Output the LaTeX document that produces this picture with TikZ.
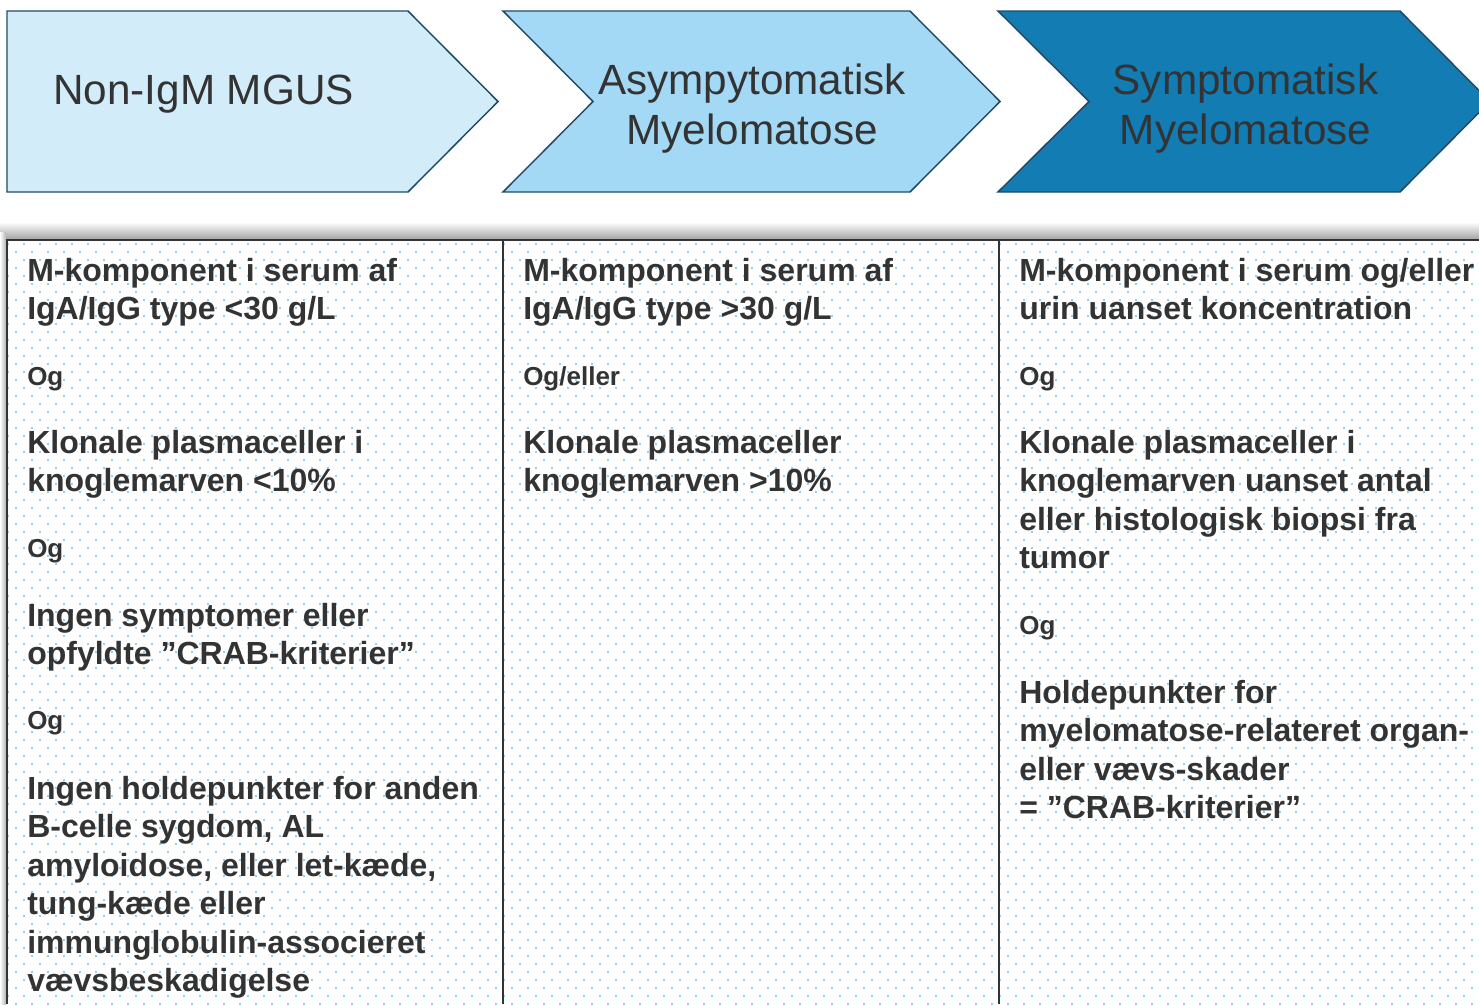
\documentclass[tikz,border=0pt]{standalone}
\usepackage{fontspec}
\setmainfont{Liberation Sans}
\usetikzlibrary{patterns.meta}
\definecolor{stageA}{HTML}{D2ECFA}
\definecolor{stageB}{HTML}{A3D9F5}
\definecolor{stageC}{HTML}{127CB3}
\definecolor{stageline}{HTML}{1F4B66}
\definecolor{txtgray}{HTML}{333333}
\definecolor{dotblue}{HTML}{8FD1F4}
\tikzset{
  stage/.style={draw=stageline, line width=1.1pt},
  head/.style={anchor=north, inner sep=0pt, align=center, text=txtgray, font=\fontsize{31.7}{37.5}\selectfont},
  crit/.style={anchor=north west, inner sep=0pt, align=left, text=txtgray, font=\fontsize{24}{28.8}\selectfont\bfseries},
  conj/.style={anchor=base west, inner sep=0pt, text=txtgray, font=\fontsize{19.5}{23}\selectfont\bfseries},
  rule/.style={line width=2.2pt, color=txtgray},
}
\begin{document}
\begin{tikzpicture}[x=0.75pt,y=0.75pt,yscale=-1,xscale=1]
\useasboundingbox (0,0) rectangle (1479,1004);
\clip (0,0) rectangle (1479,1004);

%Shape: Chevron 1
\draw [stage, fill=stageA] (7,11) -- (408,11) -- (498,101.5) -- (408,192) -- (7,192) -- cycle;
%Shape: Chevron 2
\draw [stage, fill=stageB] (503,11) -- (910,11) -- (1000,101.5) -- (910,192) -- (503,192) -- (593,101.5) -- cycle;
%Shape: Chevron 3
\draw [stage, fill=stageC] (998,11) -- (1400,11) -- (1490,101.5) -- (1400,192) -- (998,192) -- (1089,101.5) -- cycle;

% Text Node
\node [head, anchor=base] (mgus) at (203.5,104) {Non-IgM MGUS};
% Text Node
\node [head] (asym) at (752,59) {\strut Asympytomatisk\\Myelomatose};
% Text Node
\node [head] (sym) at (1245.5,59) {\strut Symptomatisk\\Myelomatose};

%Shape: Table shadow
\shade [top color=white, bottom color=gray!70] (0,222) rectangle (1479,239);
\shade [left color=white, right color=gray!60] (0,232) rectangle (6,1004);
%Shape: Table
\fill [white] (7,240) rectangle (1479,1004);
\fill [pattern={Dots[radius=0.85pt, distance=8.485pt, angle=45]}, pattern color=dotblue] (7,240) rectangle (1479,1004);
\draw [rule] (1479,240) -- (7,240) -- (7,1004);
\draw [rule] (503,240) -- (503,1004);
\draw [rule] (999,240) -- (999,1004);

% Text Node
\node [crit] (mk1) at (27,254.4) {\strut M-komponent i serum af\\IgA/IgG type <30 g/L};
\node [conj] (og1) at (27,385) {Og};
\node [crit] (kp1) at (27,426.4) {\strut Klonale plasmaceller i\\knoglemarven <10\%};
\node [conj] (og2) at (27,557) {Og};
\node [crit] (is1) at (27,599.4) {\strut Ingen symptomer eller\\opfyldte ”CRAB-kriterier”};
\node [conj] (og3) at (27,729) {Og};
\node [crit] (ih1) at (27,772.4) {\strut Ingen holdepunkter for anden\\B-celle sygdom, AL\\amyloidose, eller let-kæde,\\tung-kæde eller\\immunglobulin-associeret\\vævsbeskadigelse};

% Text Node
\node [crit] (mk2) at (523,254.4) {\strut M-komponent i serum af\\IgA/IgG type >30 g/L};
\node [conj] (og4) at (523,385) {Og/eller};
\node [crit] (kp2) at (523,426.4) {\strut Klonale plasmaceller\\knoglemarven >10\%};

% Text Node
\node [crit] (mk3) at (1019,254.4) {\strut M-komponent i serum og/eller\\urin uanset koncentration};
\node [conj] (og5) at (1019,385) {Og};
\node [crit] (kp3) at (1019,426.4) {\strut Klonale plasmaceller i\\knoglemarven uanset antal\\eller histologisk biopsi fra\\tumor};
\node [conj] (og6) at (1019,634) {Og};
\node [crit] (hp3) at (1019,676.4) {\strut Holdepunkter for\\myelomatose-relateret organ-\\eller vævs-skader\\= ”CRAB-kriterier”};

\end{tikzpicture}
\end{document}
